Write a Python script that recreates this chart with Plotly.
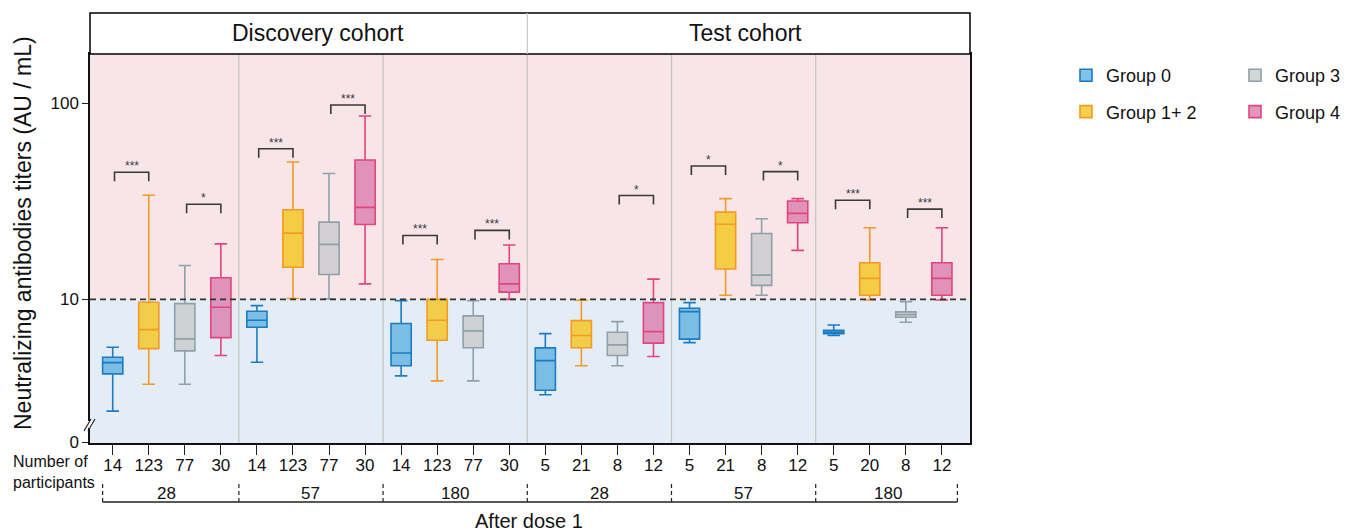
import math
import plotly.graph_objects as go

# ---- data -------------------------------------------------------------
groups = ["Group 0", "Group 1+ 2", "Group 3", "Group 4"]
cohorts = ["Discovery cohort", "Test cohort"]
days = ["28", "57", "180", "28", "57", "180"]

# participants per box, ordered slot by slot (Group 0, 1+2, 3, 4)
participants = [14, 123, 77, 30, 14, 123, 77, 30, 14, 123, 77, 30,
                5, 21, 8, 12, 5, 21, 8, 12, 5, 20, 8, 12]

# box statistics per group, one value per time point (6 time points)
g0_lower = [2.69, 4.78, 4.07, 3.26, 6.02, 6.54]
g0_q1 = [4.17, 7.21, 4.59, 3.44, 6.27, 6.69]
g0_median = [4.76, 7.83, 5.33, 4.87, 8.66, 6.82]
g0_q3 = [5.07, 8.70, 7.53, 5.66, 9.02, 6.96]
g0_upper = [5.70, 9.30, 9.86, 6.69, 9.63, 7.41]

g12_lower = [3.69, 10.1, 3.84, 4.59, 10.5, 9.94]
g12_q1 = [5.61, 14.6, 6.19, 5.67, 14.3, 10.5]
g12_median = [7.01, 21.8, 7.83, 6.54, 24.2, 12.8]
g12_q3 = [9.68, 28.7, 10.0, 7.79, 27.9, 15.4]
g12_upper = [34.0, 50.3, 16.0, 9.9, 32.7, 23.2]

g3_lower = [3.69, 10.06, 3.84, 4.59, 10.5, 7.65]
g3_q1 = [5.46, 13.4, 5.67, 5.17, 11.8, 8.11]
g3_median = [6.29, 19.1, 6.91, 5.86, 13.3, 8.36]
g3_q3 = [9.52, 24.8, 8.24, 6.80, 21.7, 8.64]
g3_upper = [14.9, 43.9, 9.86, 7.70, 25.8, 9.74]

g4_lower = [5.17, 12.0, 10.0, 5.11, 17.8, 9.94]
g4_q1 = [6.38, 24.1, 10.9, 5.98, 24.6, 10.5]
g4_median = [9.12, 29.5, 12.0, 6.85, 27.5, 12.8]
g4_q3 = [12.9, 51.5, 15.2, 9.63, 31.8, 15.4]
g4_upper = [19.2, 86.3, 18.96, 12.7, 32.7, 23.2]

# significance brackets: time point, first group, second group, level, label
sig_slot = [0, 0, 1, 1, 2, 2, 3, 4, 4, 5, 5]
sig_from = [0, 2, 0, 2, 0, 2, 2, 0, 2, 0, 2]
sig_to = [1, 3, 1, 3, 1, 3, 3, 1, 3, 1, 3]
sig_level = [44.6, 30.6, 58.8, 98.2, 21.2, 22.5, 33.9, 48.0, 44.9, 32.1, 28.9]
sig_label = ["***", "*", "***", "***", "***", "***", "*", "*", "*", "***", "***"]

threshold = 10

# ---- styling ----------------------------------------------------------
FONT = "Liberation Sans, Arial, Helvetica, sans-serif"
line_colors = ["#1b7cc3", "#f39a25", "#8ea1a8", "#e2447e"]
fill_colors = ["rgba(80,170,222,0.72)", "rgba(244,198,34,0.82)",
               "rgba(200,202,204,0.78)", "rgba(216,118,168,0.75)"]

W, H = 1348, 531
ML, MR, MT, MB = 90, 378, 54, 88
PW, PH = W - ML - MR, H - MT - MB
PLOT_BOTTOM = H - MB


def px_x(px):
    return (px - ML) / PW


def px_y(py):
    return (PLOT_BOTTOM - py) / PH


def label(x, y, text, size, xref="paper", yref="paper", **kw):
    opts = dict(x=x, y=y, xref=xref, yref=yref, text=text, showarrow=False,
                xanchor="center", yanchor="middle",
                font=dict(family=FONT, size=size, color="#111"))
    opts.update(kw)
    return opts


n_slots = len(days)
n_groups = len(groups)
y_lo, y_hi = 1.85, 178.9
r0, r1 = math.log10(y_lo), math.log10(y_hi)
f_thr = (math.log10(threshold) - r0) / (r1 - r0)
x_lo, x_hi = -0.63, 23.78


def xpos(slot, g):
    return slot * n_groups + g


stats = [
    (g0_lower, g0_q1, g0_median, g0_q3, g0_upper),
    (g12_lower, g12_q1, g12_median, g12_q3, g12_upper),
    (g3_lower, g3_q1, g3_median, g3_q3, g3_upper),
    (g4_lower, g4_q1, g4_median, g4_q3, g4_upper),
]

fig = go.Figure()
legend_of = ["legend", "legend", "legend2", "legend2"]
for g, name in enumerate(groups):
    lo, q1, med, q3, hi = stats[g]
    fig.add_trace(go.Box(
        name=name,
        x=[xpos(s, g) for s in range(n_slots)],
        lowerfence=lo, q1=q1, median=med, q3=q3, upperfence=hi,
        boxpoints=False,
        width=0.56,
        whiskerwidth=0.62,
        fillcolor=fill_colors[g],
        line=dict(color=line_colors[g], width=1.6),
        legend=legend_of[g],
        legendgroup=name,
        hoverinfo="skip",
    ))

# significance brackets
drop = 10 ** (-9 / 196)
annotations = []
for s, a, b, lvl, lab in zip(sig_slot, sig_from, sig_to, sig_level, sig_label):
    xa, xb = xpos(s, a) + 0.05, xpos(s, b)
    fig.add_trace(go.Scatter(
        x=[xa, xa, xb, xb], y=[lvl * drop, lvl, lvl, lvl * drop],
        mode="lines", line=dict(color="#3a3a3a", width=1.6),
        showlegend=False, hoverinfo="skip",
    ))
    annotations.append(dict(
        x=(xa + xb) / 2, y=math.log10(lvl), xref="x", yref="y",
        text=lab, showarrow=False, xanchor="center", yanchor="bottom",
        yshift=-3, font=dict(family=FONT, size=12, color="#3a3a3a"),
    ))

shapes = []
# shaded regions above / below the threshold
shapes.append(dict(type="rect", xref="x domain", yref="y domain",
                   x0=0, x1=1, y0=f_thr, y1=1, fillcolor="#f7e5e8",
                   line=dict(width=0), layer="below"))
shapes.append(dict(type="rect", xref="x domain", yref="y domain",
                   x0=0, x1=1, y0=0, y1=f_thr, fillcolor="#e4edf6",
                   line=dict(width=0), layer="below"))
# separators between time points
for s in range(1, n_slots):
    xs = s * n_groups - 0.5
    shapes.append(dict(type="line", xref="x", yref="y domain",
                       x0=xs, x1=xs, y0=0, y1=1,
                       line=dict(color="#c4c4c4", width=1.2), layer="below"))
# threshold line
shapes.append(dict(type="line", xref="x domain", yref="y domain",
                   x0=0, x1=1, y0=f_thr, y1=f_thr,
                   line=dict(color="#333333", width=1.6, dash="6px,4px")))

# cohort strip
strip_top = px_y(13)
shapes.append(dict(type="rect", xref="paper", yref="paper",
                   x0=0, x1=1, y0=1, y1=strip_top, fillcolor="white",
                   line=dict(color="black", width=1.5)))
mid = n_slots // 2 * n_groups - 0.5
shapes.append(dict(type="line", xref="x", yref="paper",
                   x0=mid, x1=mid, y0=1, y1=strip_top,
                   line=dict(color="#c8c8c8", width=1.2)))
annotations.append(label(px_x(318), px_y(33.5), cohorts[0], 23))
annotations.append(label(px_x(745), px_y(33.5), cohorts[1], 23))

# axis break mark
shapes.append(dict(type="rect", xref="paper", yref="paper",
                   x0=px_x(86), x1=px_x(93), y0=px_y(428), y1=px_y(421),
                   fillcolor="white", line=dict(width=0)))
for dx in (0, 4):
    shapes.append(dict(type="line", xref="paper", yref="paper",
                       x0=px_x(84 + dx), y0=px_y(431), x1=px_x(91 + dx),
                       y1=px_y(419), line=dict(color="#222", width=1.2)))

# time point brackets under the axis
edges = [-0.28] + [s * n_groups - 0.5 for s in range(1, n_slots)] + [23.43]
yb_top, yb_bot = px_y(484), px_y(502)
for xe in edges:
    shapes.append(dict(type="line", xref="x", yref="paper",
                       x0=xe, x1=xe, y0=yb_top, y1=yb_bot,
                       line=dict(color="#222", width=1.2, dash="4px,3px")))
shapes.append(dict(type="line", xref="x", yref="paper",
                   x0=edges[0], x1=edges[-1], y0=yb_bot, y1=yb_bot,
                   line=dict(color="#222", width=1.5)))
for s, d in enumerate(days):
    annotations.append(label(s * n_groups + 1.5, px_y(493), d, 17, xref="x"))

annotations.append(label(px_x(11), px_y(472), "Number of<br>participants", 16,
                         xanchor="left", align="left"))
annotations.append(label(px_x(529), px_y(521), "After dose 1", 20))
annotations.append(label(px_x(23), px_y(233),
                         "Neutralizing antibodies titers (AU / mL)", 23,
                         textangle=-90))

legend_style = dict(font=dict(family=FONT, size=18, color="#111"),
                    bgcolor="rgba(0,0,0,0)", yanchor="top", xanchor="left",
                    xref="container", yref="container",
                    tracegroupgap=10, y=1 - 57 / H)

fig.update_layout(
    width=W, height=H,
    margin=dict(l=ML, r=MR, t=MT, b=MB, autoexpand=False),
    paper_bgcolor="white", plot_bgcolor="white",
    boxmode="overlay",
    showlegend=True,
    legend=dict(x=1066 / W, **legend_style),
    legend2=dict(x=1235 / W, **legend_style),
    xaxis=dict(range=[x_lo, x_hi], tickmode="array",
               tickvals=list(range(n_slots * n_groups)),
               ticktext=[str(p) for p in participants],
               ticks="outside", ticklen=10, tickwidth=1.2, tickcolor="#222",
               ticklabelstandoff=-4,
               showgrid=False, zeroline=False,
               showline=True, linecolor="#111", linewidth=1.5, mirror=True,
               tickfont=dict(family=FONT, size=17, color="#111")),
    yaxis=dict(type="log", range=[r0, r1], tickmode="array",
               tickvals=[1.86, 10, 100], ticktext=["0", "10", "100"],
               ticks="outside", ticklen=6, tickwidth=1.2, tickcolor="#222",
               showgrid=False, zeroline=False,
               showline=True, linecolor="#111", linewidth=1.5, mirror=True,
               tickfont=dict(family=FONT, size=17, color="#111")),
    shapes=shapes,
    annotations=annotations,
)

fig.write_html("out.html")
